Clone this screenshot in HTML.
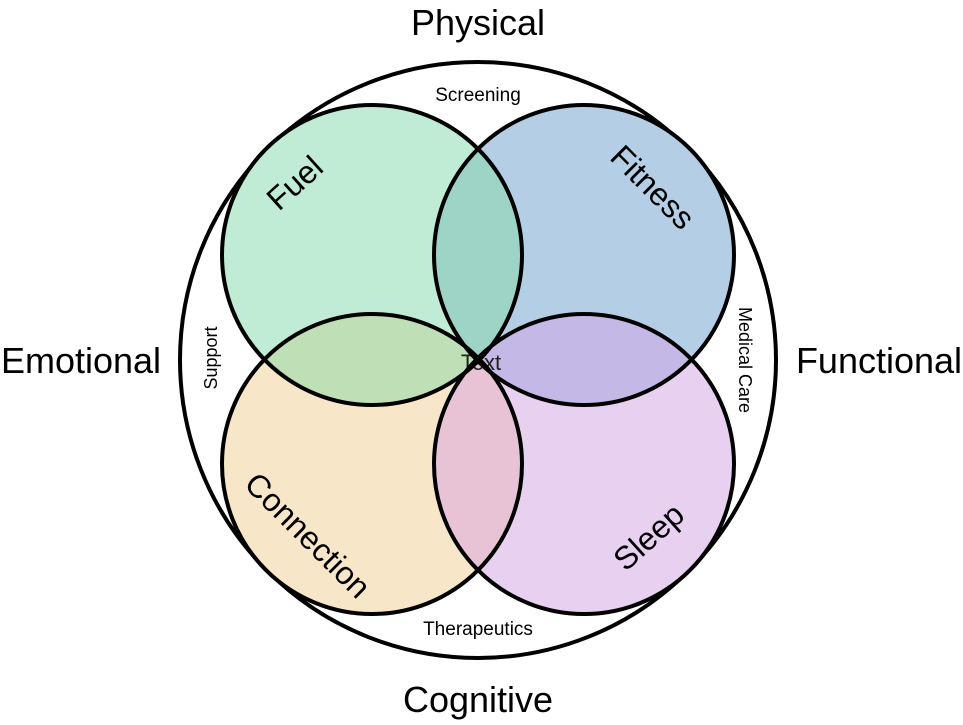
<html><body style="margin:0;background:#fff">
<svg width="963" height="725" xmlns="http://www.w3.org/2000/svg" font-family="Liberation Sans, sans-serif">
<defs>
<clipPath id="cA"><circle cx="372" cy="255" r="150"/></clipPath>
<clipPath id="cB"><circle cx="584" cy="255" r="150"/></clipPath>
<clipPath id="cC"><circle cx="372" cy="464" r="150"/></clipPath>
<clipPath id="cD"><circle cx="584" cy="464" r="150"/></clipPath>
</defs>
<circle cx="478" cy="360" r="298" fill="#fff" stroke="#000" stroke-width="4"/>
<circle cx="372" cy="255" r="150" fill="#c0ebd4"/>
<circle cx="584" cy="255" r="150" fill="#b4cfe5"/>
<circle cx="372" cy="464" r="150" fill="#f8e6c8"/>
<circle cx="584" cy="464" r="150" fill="#e8d1f0"/>
<circle cx="584" cy="255" r="150" fill="#9dd4c6" clip-path="url(#cA)"/>
<circle cx="372" cy="464" r="150" fill="#bfe0b6" clip-path="url(#cA)"/>
<circle cx="584" cy="464" r="150" fill="#c3b8e6" clip-path="url(#cB)"/>
<circle cx="584" cy="464" r="150" fill="#e8c3d6" clip-path="url(#cC)"/>
<text x="481" y="370" font-size="22" text-anchor="middle" fill="#222">Text</text>
<g fill="none" stroke="#000" stroke-width="4">
<circle cx="372" cy="255" r="150"/>
<circle cx="584" cy="255" r="150"/>
<circle cx="372" cy="464" r="150"/>
<circle cx="584" cy="464" r="150"/>
</g>
<g font-size="32" text-anchor="middle" fill="#000">
<text transform="translate(302,191) rotate(-42)">Fuel</text>
<text transform="translate(645,195) rotate(45)">Fitness</text>
<text transform="translate(300,543) rotate(45)">Connection</text>
<text transform="translate(656,545) rotate(-42)">Sleep</text>
</g>
<g font-size="36" text-anchor="middle">
<text x="478" y="35">Physical</text>
<text x="81" y="373">Emotional</text>
<text x="879" y="373">Functional</text>
<text x="478" y="712">Cognitive</text>
</g>
<g font-size="19" text-anchor="middle">
<text x="478" y="101">Screening</text>
<text x="478" y="635">Therapeutics</text>
<text transform="translate(217,358) rotate(-90)" font-size="18">Support</text>
<text transform="translate(739,360) rotate(90)" font-size="18">Medical Care</text>
</g>
</svg>
</body></html>
